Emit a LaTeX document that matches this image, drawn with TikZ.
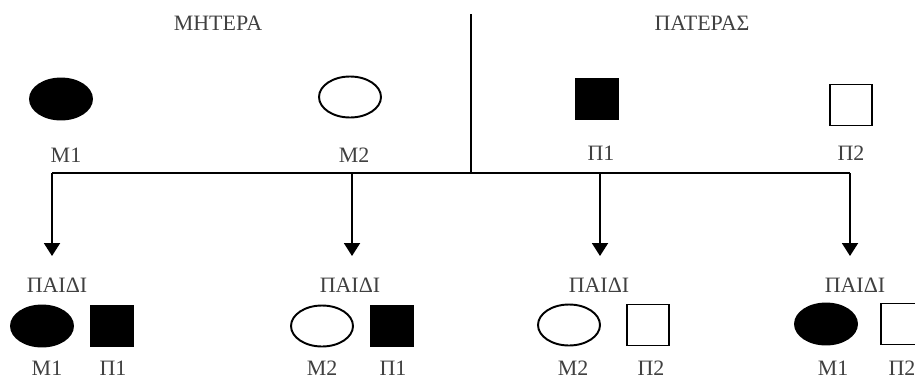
\documentclass[tikz,border=0pt]{standalone}
\usepackage{fontspec}
\setmainfont{Liberation Serif}
\usetikzlibrary{shapes.geometric,arrows.meta}
\begin{document}
\begin{tikzpicture}[x=0.02cm,y=-0.02cm,
  line width=1.1pt,
  lbl/.style={text=black!75,font=\fontsize{12.5}{14}\selectfont,inner sep=0pt},
  fem/.style={ellipse,draw,minimum width=1.24cm,minimum height=0.82cm,inner sep=0pt},
  mal/.style={rectangle,draw,minimum width=0.84cm,minimum height=0.82cm,inner sep=0pt},
  dark/.style={fill=black},
  link/.style={line width=1.1pt},
  down/.style={link,-{Triangle[width=0.32cm,length=0.26cm]}}]
\useasboundingbox (0,0) rectangle (915,379);
\clip (0,0) rectangle (915,379);

% parents' headings
\node[lbl] (mother) at (218,23) {ΜΗΤΕΡΑ};
\node[lbl] (father) at (702,23) {ΠΑΤΕΡΑΣ};

% mother's alleles
\node[fem,dark] (m1) at (61,99) {};
\node[lbl] (m1t) at (66,155) {Μ1};
\node[fem] (m2) at (350,97) {};
\node[lbl] (m2t) at (354,155) {Μ2};

% father's alleles
\node[mal,dark] (p1) at (597,99) {};
\node[lbl] (p1t) at (601,153) {Π1};
\node[mal] (p2) at (851,105) {};
\node[lbl] (p2t) at (851,153) {Π2};

% divider and crossing line
\coordinate (top) at (471,14);
\coordinate (mid) at (471,173);
\coordinate (j1) at (52,173);
\coordinate (j2) at (352,173);
\coordinate (j3) at (600,173);
\coordinate (j4) at (850,173);
\draw[link] (top) -- (mid);
\draw[link] (j1) -- (j4);

% arrow ends
\coordinate (a1) at (52,256);
\coordinate (a2) at (352,256);
\coordinate (a3) at (600,256);
\coordinate (a4) at (850,256);
\foreach \i in {1,2,3,4} \draw[down] (j\i) -- (a\i);

% children
\node[lbl] (k1) at (57,285) {ΠΑΙΔΙ};
\node[lbl] (k2) at (350,285) {ΠΑΙΔΙ};
\node[lbl] (k3) at (599,285) {ΠΑΙΔΙ};
\node[lbl] (k4) at (855,285) {ΠΑΙΔΙ};

\node[fem,dark] (c1f) at (42,326) {};
\node[mal,dark] (c1m) at (112,326) {};
\node[lbl] (c1ft) at (47,368) {Μ1};
\node[lbl] (c1mt) at (113,368) {Π1};

\node[fem] (c2f) at (322,326) {};
\node[mal,dark] (c2m) at (392,326) {};
\node[lbl] (c2ft) at (322,368) {Μ2};
\node[lbl] (c2mt) at (393,368) {Π1};

\node[fem] (c3f) at (569,325) {};
\node[mal] (c3m) at (648,325) {};
\node[lbl] (c3ft) at (573,368) {Μ2};
\node[lbl] (c3mt) at (651,368) {Π2};

\node[fem,dark] (c4f) at (826,324) {};
\node[mal] (c4m) at (902,324) {};
\node[lbl] (c4ft) at (833,368) {Μ1};
\node[lbl] (c4mt) at (902,368) {Π2};
\end{tikzpicture}
\end{document}
